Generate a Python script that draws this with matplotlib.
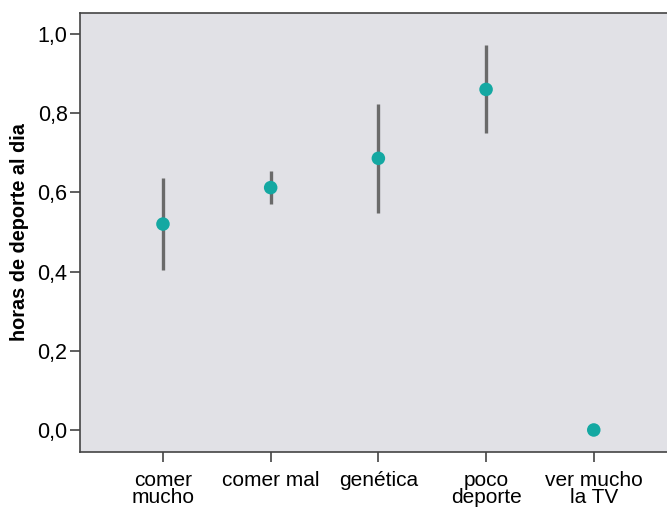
import matplotlib.pyplot as plt
from matplotlib.ticker import FuncFormatter

categories = ["comer\nmucho", "comer mal", "genética", "poco\ndeporte", "ver mucho\nla TV"]
means = [0.520, 0.612, 0.686, 0.860, 0.0]
lower = [0.404, 0.570, 0.547, 0.749, 0.0]
upper = [0.637, 0.654, 0.823, 0.972, 0.0]

plt.rcParams["font.family"] = ["Liberation Sans", "DejaVu Sans"]

fig = plt.figure(figsize=(6.67, 5.09), dpi=100)
ax = fig.add_axes([0.12, 0.112, 0.88, 0.8625])
ax.set_facecolor("#e1e1e6")

x = list(range(len(categories)))
for xi, lo, hi in zip(x, lower, upper):
    if hi > lo:
        ax.plot([xi, xi], [lo, hi], color="#6a6a6a", lw=2.4, solid_capstyle="butt", zorder=2)
ax.scatter(x, means, s=95, color="#14a8a2", edgecolors="none", zorder=3)

ax.set_xlim(-0.77, 4.68)
ax.set_ylim(-0.0556, 1.053)
ax.set_xticks(x)
ax.set_xticklabels(categories, fontsize=15, linespacing=0.85)
ax.set_yticks([0.0, 0.2, 0.4, 0.6, 0.8, 1.0])
ax.yaxis.set_major_formatter(FuncFormatter(lambda v, _: f"{v:.1f}".replace(".", ",")))
ax.tick_params(axis="y", labelsize=15.5, length=7, width=1.2, color="#444444", pad=2)
ax.tick_params(axis="x", length=7, width=1.2, color="#444444", pad=7)
ax.set_ylabel("horas de deporte al dia", fontsize=14.3, fontweight="bold", labelpad=6)

for side in ["left", "bottom", "top"]:
    ax.spines[side].set_color("#444444")
    ax.spines[side].set_linewidth(1.2)
ax.spines["right"].set_visible(False)

fig.savefig("out.png", dpi=100)
